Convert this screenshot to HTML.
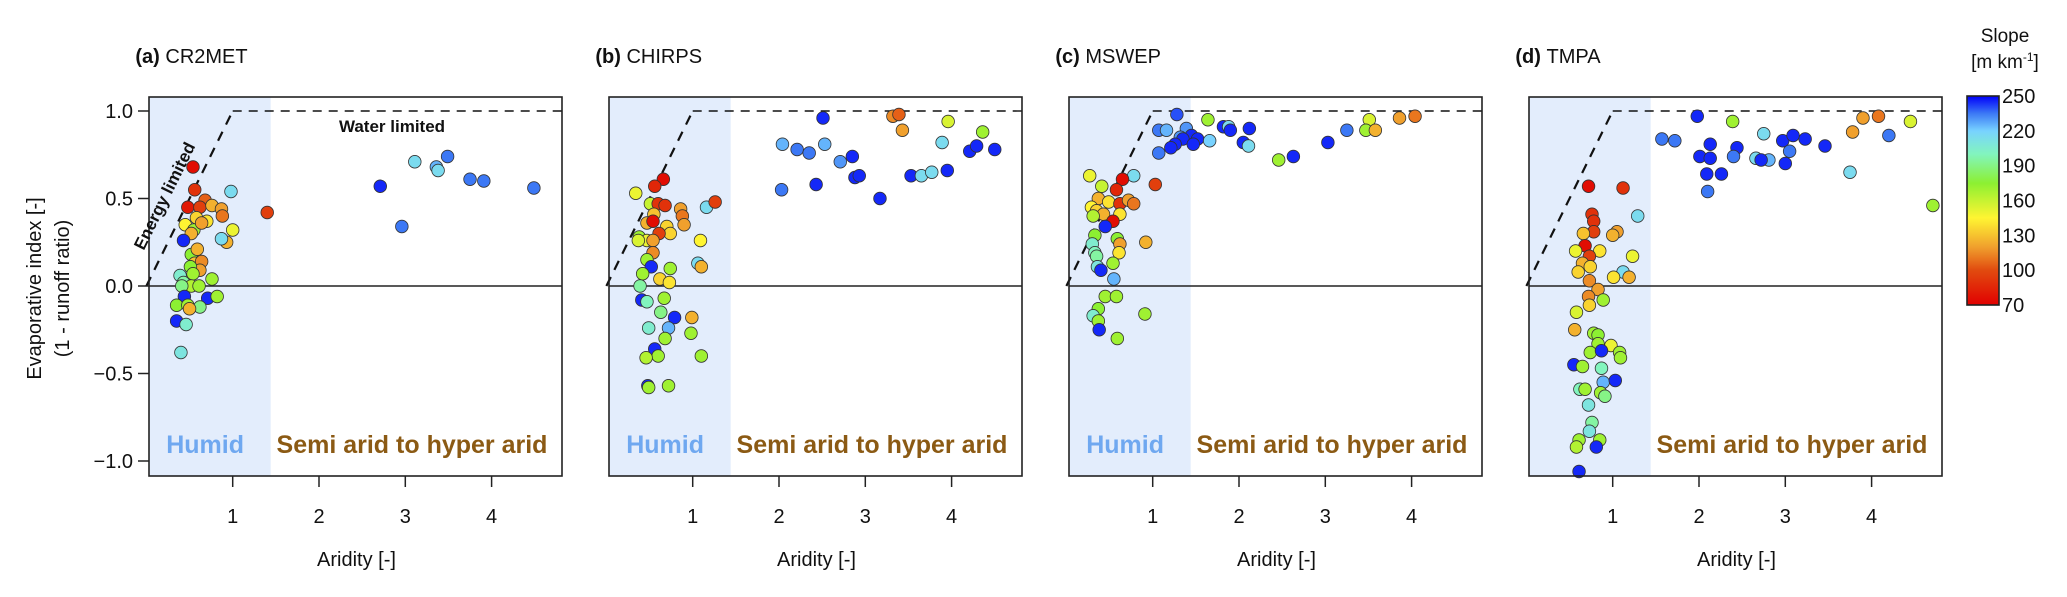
<!DOCTYPE html>
<html><head><meta charset="utf-8">
<style>
html,body{margin:0;padding:0;background:#fff;}
svg{display:block;font-family:"Liberation Sans",Arial,sans-serif;}
</style></head>
<body>
<svg id="chart" width="2067" height="597" viewBox="0 0 2067 597" xmlns="http://www.w3.org/2000/svg">
<g id="panels"></g>
<g id="colorbar"></g>
</svg>
<script>
// ---------- data ----------
const panelTitlesBold = ["(a)","(b)","(c)","(d)"];
const panelTitles = ["CR2MET","CHIRPS","MSWEP","TMPA"];
const xTicks = [1,2,3,4];
const yTicks = [1.0,0.5,0.0,-0.5,-1.0];
const yTickLabels = ["1.0","0.5","0.0","\u22120.5","\u22121.0"];
const cbTicks = [250,220,190,160,130,100,70];

const aridityA = [0.54,0.56,0.68,0.48,0.62,0.76,0.87,0.88,0.70,0.58,0.45,0.55,0.52,0.64,0.98,1.00,0.93,0.87,0.43,1.40,0.52,0.59,0.56,0.64,0.62,0.51,0.54,0.39,0.43,0.76,0.52,0.61,0.41,0.44,0.71,0.82,0.35,0.48,0.62,0.50,0.35,0.46,0.40,2.71,2.96,3.11,3.36,3.38,3.49,3.75,3.91,4.49];
const eiA = [0.68,0.55,0.49,0.45,0.45,0.46,0.44,0.40,0.37,0.39,0.35,0.32,0.30,0.36,0.54,0.32,0.25,0.27,0.26,0.42,0.18,0.21,0.13,0.14,0.09,0.11,0.07,0.06,0.02,0.04,0.00,0.00,0.00,-0.06,-0.07,-0.06,-0.11,-0.11,-0.12,-0.13,-0.20,-0.22,-0.38,0.57,0.34,0.71,0.68,0.66,0.74,0.61,0.60,0.56];
const slopeA = [75,90,105,80,95,125,120,110,140,135,145,170,125,120,215,150,125,215,245,95,175,125,130,115,120,175,170,205,195,170,165,170,190,245,245,170,175,170,190,125,245,205,210,245,235,215,225,215,235,235,235,235];

const aridityB = [0.66,0.56,0.34,0.51,0.60,0.68,0.86,0.88,0.90,0.55,0.47,0.54,0.70,0.74,0.61,0.38,0.47,0.54,0.37,0.54,0.47,0.52,0.74,0.42,0.62,0.73,0.39,1.09,1.16,1.26,1.06,1.10,0.41,0.47,0.67,0.63,0.79,0.99,0.49,0.72,0.68,0.98,0.56,0.60,0.46,1.10,0.48,0.49,0.72,2.51,2.04,2.21,2.35,2.53,2.71,2.85,2.03,2.43,2.88,2.93,3.17,3.32,3.39,3.43,3.53,3.65,3.77,3.95,3.89,3.96,4.36,4.21,4.29,4.50];
const eiB = [0.61,0.57,0.53,0.47,0.47,0.46,0.44,0.40,0.35,0.41,0.36,0.37,0.34,0.30,0.30,0.28,0.26,0.26,0.26,0.19,0.15,0.11,0.10,0.07,0.04,0.02,0.00,0.26,0.45,0.48,0.13,0.11,-0.08,-0.09,-0.07,-0.15,-0.18,-0.18,-0.24,-0.24,-0.30,-0.27,-0.36,-0.40,-0.41,-0.40,-0.57,-0.58,-0.57,0.96,0.81,0.78,0.76,0.81,0.71,0.74,0.55,0.58,0.62,0.63,0.50,0.97,0.98,0.89,0.63,0.63,0.65,0.66,0.82,0.94,0.88,0.77,0.80,0.78];
const slopeB = [75,85,150,160,90,90,120,110,120,130,125,75,135,135,95,170,150,120,155,115,170,245,170,170,135,140,195,145,215,95,215,125,245,200,170,190,245,125,205,225,170,170,245,170,165,170,245,170,170,245,225,235,235,225,230,245,235,245,245,245,245,115,105,120,245,215,215,245,215,155,170,245,245,245];

const aridityC = [1.28,1.07,1.16,1.39,1.32,1.45,1.52,1.35,1.26,1.21,1.47,1.07,1.64,1.66,1.82,1.88,1.90,2.12,2.05,2.11,2.46,2.63,3.03,3.25,3.51,3.47,3.58,3.86,4.04,0.27,0.41,0.78,0.65,0.58,1.03,0.37,0.29,0.49,0.62,0.72,0.78,0.35,0.43,0.62,0.31,0.54,0.45,0.33,0.59,0.92,0.30,0.33,0.35,0.62,0.61,0.54,0.36,0.40,0.55,0.45,0.58,0.37,0.31,0.37,0.38,0.91,0.59];
const eiC = [0.98,0.89,0.89,0.90,0.85,0.86,0.84,0.84,0.81,0.79,0.81,0.76,0.95,0.83,0.91,0.91,0.89,0.90,0.82,0.80,0.72,0.74,0.82,0.89,0.95,0.89,0.89,0.96,0.97,0.63,0.57,0.63,0.61,0.55,0.58,0.50,0.45,0.48,0.47,0.49,0.47,0.43,0.41,0.41,0.40,0.37,0.34,0.29,0.27,0.25,0.24,0.19,0.17,0.24,0.19,0.13,0.11,0.09,0.04,-0.06,-0.06,-0.13,-0.17,-0.20,-0.25,-0.16,-0.30];
const slopeC = [240,235,225,230,230,245,245,245,245,245,245,235,170,220,245,215,245,245,245,215,170,245,245,235,155,170,125,120,110,150,160,215,75,85,95,125,145,140,90,120,110,135,125,140,165,75,245,175,175,125,205,200,195,120,140,170,210,245,225,170,170,175,205,170,245,170,170];

const aridityD = [1.98,2.39,1.57,1.72,2.13,2.01,2.13,2.09,2.26,2.10,2.44,2.40,2.75,2.66,2.81,2.72,2.97,3.09,3.23,3.05,3.00,3.46,3.75,3.78,3.90,4.08,4.20,4.45,4.71,0.72,1.12,1.29,0.76,0.78,0.78,0.66,1.05,1.00,0.68,0.57,0.85,0.73,0.65,0.74,0.60,1.23,1.12,1.01,1.19,0.73,0.83,0.72,0.73,0.89,0.58,0.56,0.78,0.83,0.83,0.74,0.98,1.08,1.09,0.87,0.55,0.65,0.87,0.89,1.03,0.62,0.68,0.86,0.91,0.72,0.76,0.73,0.61,0.85,0.58,0.81,0.61];
const eiD = [0.97,0.94,0.84,0.83,0.81,0.74,0.73,0.64,0.64,0.54,0.79,0.74,0.87,0.73,0.72,0.72,0.83,0.86,0.84,0.77,0.70,0.80,0.65,0.88,0.96,0.97,0.86,0.94,0.46,0.57,0.56,0.40,0.41,0.37,0.31,0.30,0.31,0.29,0.23,0.20,0.20,0.17,0.13,0.11,0.08,0.17,0.08,0.05,0.05,0.03,-0.02,-0.06,-0.11,-0.08,-0.15,-0.25,-0.27,-0.28,-0.33,-0.38,-0.34,-0.38,-0.41,-0.37,-0.45,-0.46,-0.47,-0.55,-0.54,-0.59,-0.59,-0.61,-0.63,-0.68,-0.78,-0.83,-0.88,-0.88,-0.92,-0.92,-1.06];
const slopeD = [245,170,235,235,245,245,245,245,245,235,245,235,215,215,225,245,245,245,245,235,245,245,215,120,120,110,235,155,170,75,90,215,90,90,95,130,120,125,75,150,140,95,125,135,135,150,215,140,125,115,120,115,135,170,155,125,170,175,170,170,150,170,170,245,245,170,200,225,245,200,170,170,190,210,195,210,170,170,165,245,245];

const panelX = [aridityA, aridityB, aridityC, aridityD];
const panelY = [eiA, eiB, eiC, eiD];
const panelS = [slopeA, slopeB, slopeC, slopeD];

// ---------- layout ----------
const NS = "http://www.w3.org/2000/svg";
const PX = 86.3, PY = 175, Y0 = 286, TOP = 97, BOT = 476, BOXW = 413;
function x0Of(i){ return 146.4 + 460*i; }
function sx(i, v){ return x0Of(i) + v*PX; }
function sy(v){ return Y0 - v*PY; }

const cmapStops = [[70,[225,0,0]],[100,[225,75,15]],[120,[240,160,45]],[145,[255,245,50]],[175,[140,240,50]],[200,[130,245,190]],[220,[120,210,255]],[235,[60,120,245]],[250,[0,0,250]]];
function cmap(s){
  if(s<=cmapStops[0][0]) return "rgb("+cmapStops[0][1].join(",")+")";
  for(let k=1;k<cmapStops.length;k++){
    if(s<=cmapStops[k][0]){
      const a=cmapStops[k-1], b=cmapStops[k], t=(s-a[0])/(b[0]-a[0]);
      return "rgb("+a[1].map((c,j)=>Math.round(c+(b[1][j]-c)*t)).join(",")+")";
    }
  }
  return "rgb("+cmapStops[cmapStops.length-1][1].join(",")+")";
}
function mk(tag, attrs, parent, text){
  const e=document.createElementNS(NS,tag);
  for(const k in attrs) e.setAttribute(k,attrs[k]);
  if(text!==undefined) e.textContent=text;
  parent.appendChild(e); return e;
}

const root=document.getElementById("panels");
for(let i=0;i<4;i++){
  const g=mk("g",{},root);
  
  
  const L=x0Of(i)+2.6, R=L+BOXW;
  const hum=mk("rect",{x:L,y:TOP,width:sx(i,1.44)-L,height:BOT-TOP,fill:"#e3edfc"},g);
  
  
  const zl=mk("line",{x1:L,x2:R,y1:sy(0),y2:sy(0),stroke:"#222","stroke-width":1.5},g);
  
  
  const en=mk("line",{x1:sx(i,0),y1:sy(0),x2:sx(i,1),y2:sy(1),stroke:"#111","stroke-width":2.2,"stroke-dasharray":"10,8"},g);
  
  
  const wa=mk("line",{x1:sx(i,1),y1:sy(1),x2:R,y2:sy(1),stroke:"#111","stroke-width":1.4,"stroke-dasharray":"9,7"},g);
  
  
  if(i<3){
    const t=mk("text",{x:sx(i,0.68),y:453,"text-anchor":"middle","font-size":25,"font-weight":"bold",fill:"#6fa8f0"},g,"Humid");
    
    
  }
  const sa=mk("text",{x:L+263,y:453,"text-anchor":"middle","font-size":25,"font-weight":"bold",fill:"#8b5a14"},g,"Semi arid to hyper arid");
  
  
  // points
  const xs=panelX[i], ys=panelY[i], ss=panelS[i];
  for(let k=0;k<xs.length;k++){
    const c=mk("circle",{cx:sx(i,xs[k]),cy:sy(ys[k]),r:6.3,fill:cmap(ss[k]),stroke:"#333","stroke-width":0.8},g);
    
    
  }
  const box=mk("rect",{x:L,y:TOP,width:BOXW,height:BOT-TOP,fill:"none",stroke:"#222","stroke-width":1.6},g);
  
  
  // x ticks
  for(let k=0;k<xTicks.length;k++){
    const xv=sx(i,xTicks[k]);
    const tl=mk("line",{x1:xv,x2:xv,y1:BOT,y2:BOT+11,stroke:"#222","stroke-width":1.5},g);
    
    
    const tt=mk("text",{x:xv,y:523,"text-anchor":"middle","font-size":20,fill:"#111"},g,String(xTicks[k]));
    
    
  }
  const xt=mk("text",{x:L+BOXW/2+1,y:566,"text-anchor":"middle","font-size":20,fill:"#111"},g,"Aridity [-]");
  
  
  const ti=mk("text",{x:x0Of(i)-11,y:63,"font-size":20,fill:"#111"},g);
  
  
  mk("tspan",{"font-weight":"bold"},ti,panelTitlesBold[i]+" ");
  mk("tspan",{},ti,panelTitles[i]);
  if(i===0){
    for(let k=0;k<yTicks.length;k++){
      const yv=sy(yTicks[k]);
      const tl=mk("line",{x1:L-11,x2:L,y1:yv,y2:yv,stroke:"#222","stroke-width":1.5},g);
      
      
      const tt=mk("text",{x:L-16,y:yv+7,"text-anchor":"end","font-size":20,fill:"#111"},g,yTickLabels[k]);
      
      
    }
    const y1=mk("text",{transform:`translate(41,${(TOP+BOT)/2+2}) rotate(-90)`,"text-anchor":"middle","font-size":20,fill:"#111"},g,"Evaporative index [-]");
    
    
    const y2=mk("text",{transform:`translate(69,${(TOP+BOT)/2+2}) rotate(-90)`,"text-anchor":"middle","font-size":20,fill:"#111"},g,"(1 - runoff ratio)");
    
    
    const el=mk("text",{transform:`translate(${sx(0,0.27)},${sy(0.5)}) rotate(-63.7)`,"text-anchor":"middle","font-size":17,"font-weight":"bold",fill:"#111"},g,"Energy limited");
    
    
    const wl=mk("text",{x:392,y:132,"text-anchor":"middle","font-size":17,"font-weight":"bold",fill:"#111"},g,"Water limited");
    
    
  }
}

// colorbar
const cb=document.getElementById("colorbar");
const CBX=1967, CBW=32, CBT=96, CBB=305;
const defs=mk("defs",{},cb);
const grad=mk("linearGradient",{id:"cbg",x1:0,y1:1,x2:0,y2:0},defs);
for(let s=70;s<=250;s+=5){
  mk("stop",{offset:((s-70)/180).toFixed(3),"stop-color":cmap(s)},grad);
}
const cbr=mk("rect",{x:CBX,y:CBT,width:CBW,height:CBB-CBT,fill:"url(#cbg)",stroke:"#222","stroke-width":1.6},cb);


for(let k=0;k<cbTicks.length;k++){
  const yv=CBB-(cbTicks[k]-70)/180*(CBB-CBT);
  const t=mk("text",{x:CBX+CBW+3,y:yv+7,"font-size":20,fill:"#111"},cb,String(cbTicks[k]));
  
  
}
const ct1=mk("text",{x:2005,y:42,"text-anchor":"middle","font-size":19,fill:"#111"},cb,"Slope");


const ct2=mk("text",{x:2005,y:68,"text-anchor":"middle","font-size":19,fill:"#111"},cb);


mk("tspan",{},ct2,"[m km");
mk("tspan",{"font-size":12,dy:-7},ct2,"-1");
mk("tspan",{dy:7},ct2,"]");
</script>
</body></html>
